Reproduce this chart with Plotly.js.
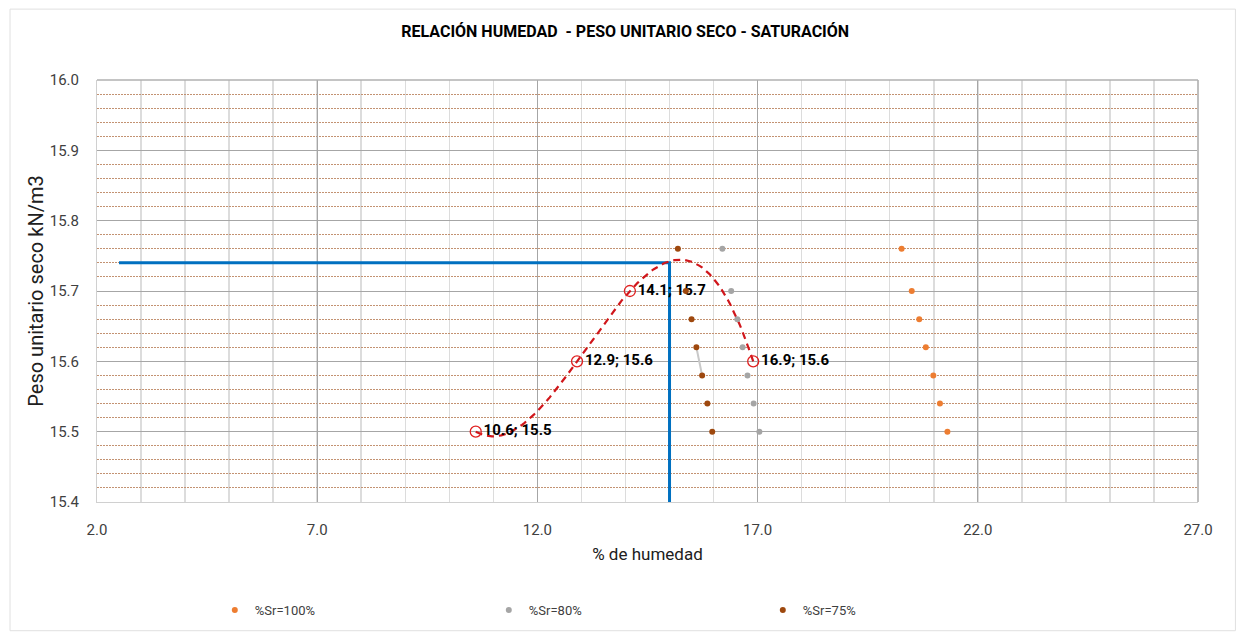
<!DOCTYPE html>
<html>
<head>
<meta charset="utf-8">
<script src="https://cdn.plot.ly/plotly-3.0.1.min.js"></script>
<style>
  html, body { margin: 0; padding: 0; background: #ffffff; }
  #chart { width: 1238px; height: 636px; }
</style>
</head>
<body>
<div id="chart"></div>
<script>
// ---- Data ----
// Compaction test points (% humidity, dry unit weight kN/m3)
const proctorX = [10.6, 12.9, 14.1, 16.9];
const proctorY = [15.5, 15.6, 15.7, 15.6];
const proctorLabels = ["10.6; 15.5", "12.9; 15.6", "14.1; 15.7", "16.9; 15.6"];

// Saturation curves
const satY = [15.76, 15.70, 15.66, 15.62, 15.58, 15.54, 15.50];
const sr100X = [20.27, 20.50, 20.67, 20.82, 20.99, 21.14, 21.31];
const sr80X  = [16.20, 16.40, 16.54, 16.66, 16.77, 16.91, 17.04];
const sr75X  = [15.19, 15.37, 15.50, 15.61, 15.74, 15.86, 15.97];

// Optimum reading lines (blue)
const optX = [2.5, 15.0, 15.0];
const optY = [15.74, 15.74, 15.4];

const xTickVals = [2.0, 7.0, 12.0, 17.0, 22.0, 27.0];
const yTickVals = [15.4, 15.5, 15.6, 15.7, 15.8, 15.9, 16.0];

const seriesNames = ["%Sr=100%", "%Sr=80%", "%Sr=75%"];
const titleText = "RELACIÓN HUMEDAD  - PESO UNITARIO SECO - SATURACIÓN";
const xTitle = "% de humedad";
const yTitle = "Peso unitario seco kN/m3";

// ---- Polynomial (order 3) trendline, as the spreadsheet trendline ----
function polyfit(xs, ys, order) {
  const n = order + 1;
  const A = [];
  for (let i = 0; i < n; i++) A.push(new Array(n + 1).fill(0));
  for (let k = 0; k < xs.length; k++) {
    for (let i = 0; i < n; i++) {
      for (let j = 0; j < n; j++) A[i][j] += Math.pow(xs[k], i + j);
      A[i][n] += ys[k] * Math.pow(xs[k], i);
    }
  }
  for (let i = 0; i < n; i++) {
    let p = i;
    for (let r = i + 1; r < n; r++) if (Math.abs(A[r][i]) > Math.abs(A[p][i])) p = r;
    [A[i], A[p]] = [A[p], A[i]];
    for (let r = 0; r < n; r++) {
      if (r === i) continue;
      const f = A[r][i] / A[i][i];
      for (let c = i; c <= n; c++) A[r][c] -= f * A[i][c];
    }
  }
  return A.map((row, i) => row[n] / row[i]);
}
const coef = polyfit(proctorX, proctorY, 3);
const trendX = [], trendY = [];
const xmin = Math.min(...proctorX), xmax = Math.max(...proctorX);
for (let i = 0; i <= 120; i++) {
  const x = xmin + (xmax - xmin) * i / 120;
  trendX.push(x);
  trendY.push(coef.reduce((s, c, k) => s + c * Math.pow(x, k), 0));
}

const FONT = "Roboto, 'Liberation Sans', sans-serif";

const traces = [
  {
    x: optX, y: optY, mode: "lines", type: "scatter",
    line: { color: "#0070c0", width: 3 },
    showlegend: false, hoverinfo: "skip"
  },
  {
    x: trendX, y: trendY, mode: "lines", type: "scatter",
    line: { color: "#d0161b", width: 2.2, dash: "7px,5px" },
    showlegend: false, hoverinfo: "skip"
  },
  {
    x: proctorX, y: proctorY, mode: "markers+text", type: "scatter",
    text: proctorLabels, textposition: "middle right",
    textfont: { family: FONT, size: 15, color: "#000000", weight: "bold" },
    marker: { symbol: "circle-open", size: 11, color: "#e02020", line: { width: 1.3 } },
    cliponaxis: false,
    showlegend: false
  },
  {
    x: [sr75X[3], sr75X[4]], y: [satY[3], satY[4]], mode: "lines", type: "scatter",
    line: { color: "#c9c9c9", width: 2 },
    showlegend: false, hoverinfo: "skip"
  },
  {
    x: sr100X, y: satY, mode: "markers", type: "scatter", name: seriesNames[0],
    marker: { color: "#ed7d31", size: 6 }
  },
  {
    x: sr80X, y: satY, mode: "markers", type: "scatter", name: seriesNames[1],
    marker: { color: "#a5a5a5", size: 6 }
  },
  {
    x: sr75X, y: satY, mode: "markers", type: "scatter", name: seriesNames[2],
    marker: { color: "#9e480e", size: 6 }
  }
];

const layout = {
  width: 1238, height: 636,
  paper_bgcolor: "#ffffff", plot_bgcolor: "#ffffff",
  margin: { l: 97, r: 40, t: 80, b: 133 },
  title: {
    text: titleText,
    font: { family: FONT, size: 16, color: "#000000", weight: "bold" },
    x: 0.505, xanchor: "center", y: 0.95, yanchor: "middle"
  },
  xaxis: {
    range: [2, 27], tickvals: xTickVals, tickformat: ".1f",
    showgrid: true, gridcolor: "#a6a6a6", gridwidth: 1,
    minor: { dtick: 1, tick0: 2, showgrid: true, gridcolor: "#dcdcdc", gridwidth: 1.5 },
    zeroline: false, showline: true, linecolor: "#d0d0d0", linewidth: 1,
    ticks: "", ticklabelstandoff: 14,
    tickfont: { family: FONT, size: 15, color: "#404040" },
    title: { text: xTitle, font: { family: FONT, size: 17, color: "#202020" }, standoff: 10 }
  },
  yaxis: {
    range: [15.4, 16.0], tickvals: yTickVals, tickformat: ".1f",
    showgrid: true, gridcolor: "#a6a6a6", gridwidth: 1,
    minor: { dtick: 0.02, tick0: 15.4, showgrid: true, gridcolor: "#c39272", gridwidth: 1, griddash: "2px,1px" },
    zeroline: false, showline: true, linecolor: "#d0d0d0", linewidth: 1,
    ticks: "", ticklabelstandoff: 14,
    tickfont: { family: FONT, size: 15, color: "#404040" },
    title: { text: yTitle, font: { family: FONT, size: 20, color: "#202020" }, standoff: 0 }
  },
  legend: {
    orientation: "h", x: 0.107, xanchor: "left", y: -0.253, yanchor: "middle",
    entrywidth: 229, entrywidthmode: "pixels",
    font: { family: FONT, size: 13, color: "#404040" },
    itemsizing: "trace", bgcolor: "rgba(0,0,0,0)"
  },
  shapes: [
    { type: "line", xref: "paper", yref: "paper", x0: 1, x1: 1, y0: 0, y1: 1,
      line: { color: "#bfbfbf", width: 2 } },
    { type: "line", xref: "paper", yref: "paper", x0: 0, x1: 1, y0: 1, y1: 1,
      line: { color: "#b0b0b0", width: 1.5 } },
    { type: "rect", xref: "paper", yref: "paper",
      x0: -0.079, x1: 1.034, y0: -0.305, y1: 1.168,
      line: { color: "#e0e0e0", width: 1 }, layer: "below" }
  ],
  showlegend: true
};

Plotly.newPlot("chart", traces, layout, { displayModeBar: false, staticPlot: true });
</script>
</body>
</html>
